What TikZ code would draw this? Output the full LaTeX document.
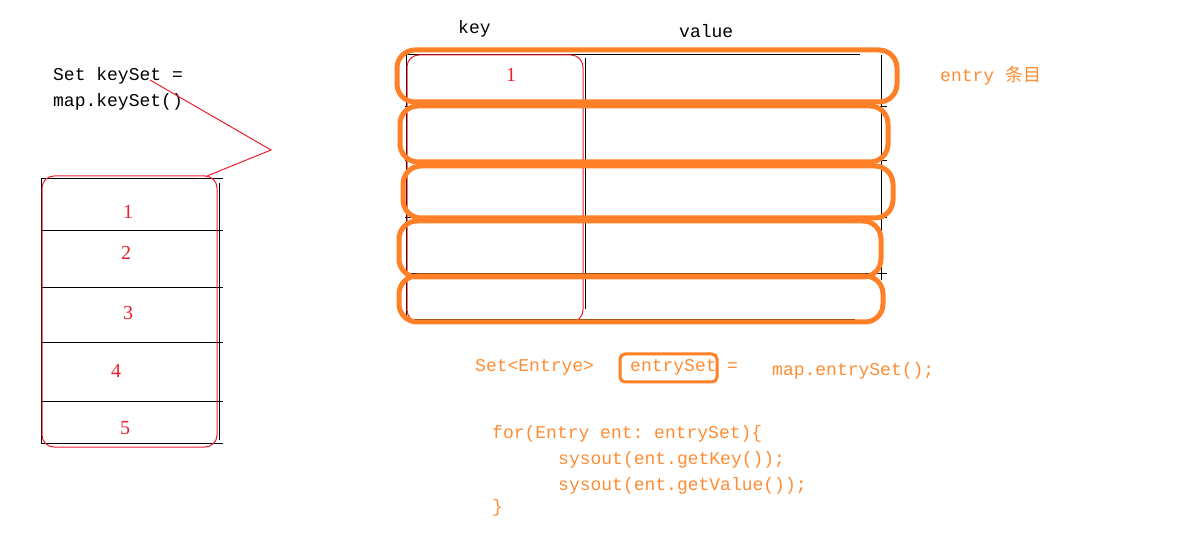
\documentclass[tikz,border=0pt]{standalone}
\usepackage{fontspec}
\setmainfont{Liberation Serif}
\setmonofont{Liberation Mono}
\newfontfamily\cjkfont{Noto Sans CJK SC}
\usepackage{tikz}
\usetikzlibrary{positioning, calc}
\definecolor{mapOrange}{RGB}{255,128,38}
\definecolor{mapText}{RGB}{255,140,50}
\definecolor{mapRed}{RGB}{235,30,45}

\begin{document}
\begin{tikzpicture}[
        x=1bp, y=-1bp,
        code/.style={anchor=base west, inner sep=0pt, font=\ttfamily\fontsize{18bp}{20bp}\selectfont},
        num/.style={anchor=base, inner sep=0pt, text=mapRed, font=\fontsize{20bp}{22bp}\selectfont},
        entrybox/.style={draw=mapOrange, line width=5bp, rounded corners=18bp},
        grid/.style={black, line width=1bp},
        redline/.style={draw=mapRed, line width=1bp}
      ]
        \useasboundingbox (0,0) rectangle (1180,557);

        % keySet on the left
        \node[code] (keyset) at (53,81) {Set keySet =};
        \node[code] (keysetcall) at (53,107) {map.keySet()};

        \draw[grid] (41,179) -- (41,443);
        \draw[grid] (41,179) -- (223,179);
        \draw[grid] (219,183) -- (219,440);
        \foreach \y in {231,288,343,402,443}
          \draw[grid] (41,\y) -- (223,\y);
        \draw[redline, rounded corners=12bp] (42,176) rectangle (217,447);
        \coordinate (setcorner) at (207,176);
        \coordinate (tip) at (271,150);
        \coordinate (settext) at (150,80);
        \draw[redline] (settext) -- (tip) -- (setcorner);

        \node[num] (k1) at (128,219) {1};
        \node[num] (k2) at (126,260) {2};
        \node[num] (k3) at (128,320) {3};
        \node[num] (k4) at (116,378) {4};
        \node[num] (k5) at (125,434) {5};

        % the map table
        \node[code] (keyhead) at (458,34) {key};
        \node[code] (valuehead) at (679,38) {value};

        \draw[grid] (406,55) -- (860,55);
        \draw[grid] (406,55) -- (406,320);
        \draw[grid] (585,58) -- (585,309);
        \draw[grid] (881,55) -- (881,280);
        \foreach \y in {107,161,218,274}
          \draw[grid] (405,\y) -- (887,\y);
        \draw[grid] (405,320) -- (855,320);
        \draw[redline, rounded corners=12bp] (407,55) rectangle (583,322);
        \node[num] (v1) at (511,82) {1};

        \draw[entrybox] (397,50) rectangle (897,102);
        \draw[entrybox] (400,106) rectangle (888,162);
        \draw[entrybox] (403,166) rectangle (893,218);
        \draw[entrybox] (399,221) rectangle (881,277);
        \draw[entrybox] (399,276) rectangle (883,322);

        \node[code, text=mapText] (entry) at (940,82) {entry {\cjkfont 条目}};

        % entrySet code
        \node[code, text=mapText] (settype) at (475,372) {Set<Entrye>};
        \node[code, text=mapText] (entryset) at (630,372) {entrySet};
        \draw[draw=mapOrange, line width=3bp, rounded corners=5bp] (620,354) rectangle (717,382);
        \node[code, text=mapText] (equals) at (727,372) {=};
        \node[code, text=mapText] (entrycall) at (772,376) {map.entrySet();};
        \node[code, text=mapText] (forline) at (492,438) {for(Entry ent: entrySet)\{};
        \node[code, text=mapText] (getkey) at (558,464) {sysout(ent.getKey());};
        \node[code, text=mapText] (getvalue) at (558,490) {sysout(ent.getValue());};
        \node[code, text=mapText] (close) at (492,512) {\}};
      \end{tikzpicture}
\end{document}
